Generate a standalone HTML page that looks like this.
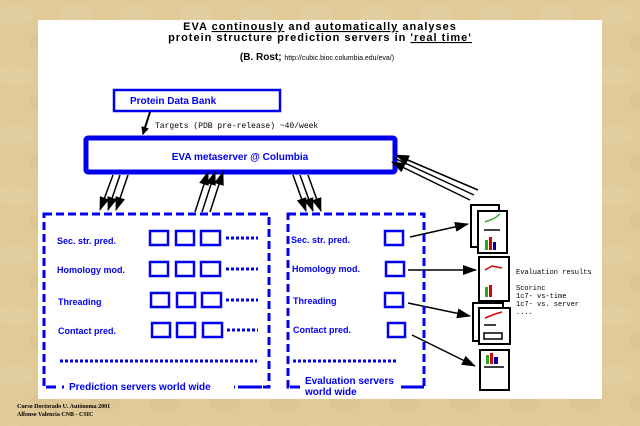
<!DOCTYPE html>
<html><head><meta charset="utf-8"><style>
html,body{margin:0;padding:0;width:640px;height:426px;overflow:hidden;background:#e0c995;}
svg{display:block}
</style></head><body>
<svg width="640" height="426" viewBox="0 0 640 426" xmlns="http://www.w3.org/2000/svg" font-family="Liberation Sans, sans-serif">
<defs>
<pattern id="p" width="60" height="60" patternUnits="userSpaceOnUse">
<rect width="60" height="60" fill="#e1ca98"/>
<ellipse cx="15" cy="15" rx="18" ry="10" fill="#e8d6ae" opacity=".35"/>
<ellipse cx="45" cy="42" rx="16" ry="9" fill="#d6bc88" opacity=".3"/>
</pattern>
<marker id="a" markerWidth="8" markerHeight="8" refX="7" refY="4" orient="auto" markerUnits="userSpaceOnUse"><path d="M0,0 L8,4 L0,8 z" fill="#000"/></marker>
<marker id="b" markerWidth="14" markerHeight="10" refX="13" refY="5" orient="auto" markerUnits="userSpaceOnUse"><path d="M0,0 L14,5 L0,10 z" fill="#000"/></marker>
</defs>
<rect width="640" height="426" fill="url(#p)"/>
<rect x="38" y="20" width="564" height="379" fill="#fff"/>
<text x="320" y="30" text-anchor="middle" font-size="11" font-weight="bold" letter-spacing="1">EVA <tspan text-decoration="underline">continously</tspan> and <tspan text-decoration="underline">automatically</tspan> analyses</text>
<text x="320" y="41" text-anchor="middle" font-size="11" font-weight="bold" letter-spacing="1">protein structure prediction servers in <tspan text-decoration="underline">'real time'</tspan></text>
<text x="317" y="60" text-anchor="middle" font-size="10" font-weight="bold">(B. Rost; <tspan font-size="7" font-weight="normal">http://cubic.bioc.columbia.edu/eva/)</tspan></text>
<rect x="114" y="90" width="166" height="21" fill="none" stroke="#0000ee" stroke-width="2.5"/>
<text x="130" y="104" font-size="10" font-weight="bold" fill="#0000ee">Protein Data Bank</text>
<line x1="150" y1="112" x2="143" y2="134" stroke="#000" stroke-width="2" marker-end="url(#a)"/>
<text x="155" y="128" font-size="8" font-family="Liberation Mono, monospace">Targets (PDB pre-release) ~40/week</text>
<rect x="86" y="138" width="309" height="34" rx="2" fill="none" stroke="#0000ee" stroke-width="5"/>
<text x="240" y="160" text-anchor="middle" font-size="10" font-weight="bold" fill="#0000ee">EVA metaserver @ Columbia</text>
<g stroke="#000" stroke-width="1.5">
<line x1="113" y1="175" x2="100" y2="210" marker-end="url(#b)"/>
<line x1="120" y1="175" x2="108" y2="210" marker-end="url(#b)"/>
<line x1="128" y1="175" x2="116" y2="210" marker-end="url(#b)"/>
<line x1="195" y1="212" x2="208" y2="172" marker-end="url(#b)"/>
<line x1="202" y1="212" x2="215" y2="172" marker-end="url(#b)"/>
<line x1="210" y1="212" x2="223" y2="172" marker-end="url(#b)"/>
<line x1="293" y1="175" x2="306" y2="211" marker-end="url(#b)"/>
<line x1="300" y1="175" x2="313" y2="211" marker-end="url(#b)"/>
<line x1="308" y1="175" x2="321" y2="211" marker-end="url(#b)"/>
<line x1="470" y1="200" x2="392" y2="162" marker-end="url(#b)"/>
<line x1="474" y1="195" x2="394" y2="158"/>
<line x1="478" y1="190" x2="396" y2="155" marker-end="url(#b)"/>
<line x1="410" y1="237" x2="468" y2="224" marker-end="url(#b)"/>
<line x1="408" y1="270" x2="476" y2="270" marker-end="url(#b)"/>
<line x1="408" y1="303" x2="470" y2="316" marker-end="url(#b)"/>
<line x1="412" y1="335" x2="475" y2="366" marker-end="url(#b)"/>
</g>
<g fill="none" stroke="#0000ee" stroke-width="3" stroke-dasharray="8,4">
<rect x="44" y="214" width="225" height="173"/>
<rect x="288" y="214" width="136" height="173"/>
</g>
<rect x="56" y="380" width="178" height="12" fill="#fff"/>
<rect x="300" y="374" width="100" height="25" fill="#fff"/>
<g font-size="9" font-weight="bold" fill="#0000ee">
<text x="57" y="244">Sec. str. pred.</text>
<text x="57" y="273">Homology mod.</text>
<text x="58" y="305">Threading</text>
<text x="58" y="334">Contact pred.</text>
<text x="291" y="243">Sec. str. pred.</text>
<text x="292" y="272">Homology mod.</text>
<text x="293" y="304">Threading</text>
<text x="293" y="333">Contact pred.</text>
<text x="69" y="390" font-size="10">Prediction servers world wide</text>
<text x="305" y="384" font-size="10">Evaluation servers</text>
<text x="305" y="395" font-size="10">world wide</text>
</g>
<g stroke="#0000ee" stroke-width="3">
<line x1="46" y1="387" x2="56" y2="387"/><line x1="62" y1="387" x2="64" y2="387"/>
<line x1="238" y1="387" x2="268" y2="387" stroke-dasharray="6,3"/>
<line x1="290" y1="387" x2="298" y2="387"/>
<line x1="405" y1="387" x2="424" y2="387"/>
</g>
<g fill="none" stroke="#0000ee" stroke-width="2.5">
<rect x="150" y="231" width="18" height="14"/><rect x="176" y="231" width="18" height="14"/><rect x="201" y="231" width="19" height="14"/>
<rect x="150" y="262" width="18" height="14"/><rect x="176" y="262" width="18" height="14"/><rect x="201" y="262" width="19" height="14"/>
<rect x="151" y="293" width="18" height="14"/><rect x="177" y="293" width="18" height="14"/><rect x="202" y="293" width="19" height="14"/>
<rect x="152" y="323" width="18" height="14"/><rect x="177" y="323" width="18" height="14"/><rect x="203" y="323" width="19" height="14"/>
<rect x="385" y="231" width="18" height="14"/><rect x="386" y="262" width="18" height="14"/>
<rect x="385" y="293" width="18" height="14"/><rect x="388" y="323" width="17" height="14"/>
</g>
<g stroke="#0000ee" stroke-width="3" stroke-dasharray="3,2">
<line x1="226" y1="238" x2="258" y2="238"/><line x1="226" y1="269" x2="258" y2="269"/>
<line x1="226" y1="300" x2="258" y2="300"/><line x1="227" y1="330" x2="258" y2="330"/>
<line x1="60" y1="361" x2="257" y2="361"/><line x1="293" y1="361" x2="398" y2="361"/>
</g>
<g stroke="#000" stroke-width="2" fill="#fff">
<rect x="471" y="205" width="28" height="42"/><rect x="478" y="211" width="29" height="42"/>
<rect x="479" y="257" width="30" height="44"/>
<rect x="473" y="303" width="30" height="38"/><rect x="479" y="308" width="31" height="36"/>
<rect x="480" y="350" width="29" height="40"/>
</g>
<g stroke-width="1.5">
<path d="M485 222 L495 218 L500 214" stroke="#4a4" fill="none"/><line x1="484" y1="230" x2="500" y2="230" stroke="#000"/>
<rect x="485" y="240" width="3" height="10" fill="#2a2"/><rect x="489" y="237" width="3" height="13" fill="#d00"/><rect x="493" y="242" width="3" height="8" fill="#00a"/>
<path d="M485 270 L492 266 L502 268" stroke="#d00" fill="none"/>
<rect x="485" y="287" width="3" height="10" fill="#2a2"/><rect x="489" y="285" width="3" height="12" fill="#d00"/>
<path d="M485 318 L495 314 L502 312" stroke="#d00" fill="none"/><line x1="484" y1="325" x2="496" y2="325" stroke="#000"/><rect x="484" y="333" width="18" height="6" fill="none" stroke="#000"/>
<rect x="486" y="355" width="3" height="9" fill="#2a2"/><rect x="490" y="353" width="3" height="11" fill="#d00"/><rect x="494" y="357" width="4" height="7" fill="#00a"/>
<line x1="484" y1="367" x2="504" y2="367" stroke="#000"/>
</g>
<g font-family="Liberation Mono, monospace" font-size="7">
<text x="516" y="274">Evaluation results</text>
<text x="516" y="290">Scorinc</text>
<text x="516" y="298">1c7- vs-time</text>
<text x="516" y="306">1c7- vs. server</text>
<text x="516" y="314">....</text>
</g>
<g font-family="Liberation Serif, serif" font-size="6" font-weight="bold">
<text x="17" y="408">Curso Doctorado U. Autónoma 2001</text>
<text x="17" y="416">Alfonso Valencia CNB - CSIC</text>
</g>
</svg>
</body></html>
